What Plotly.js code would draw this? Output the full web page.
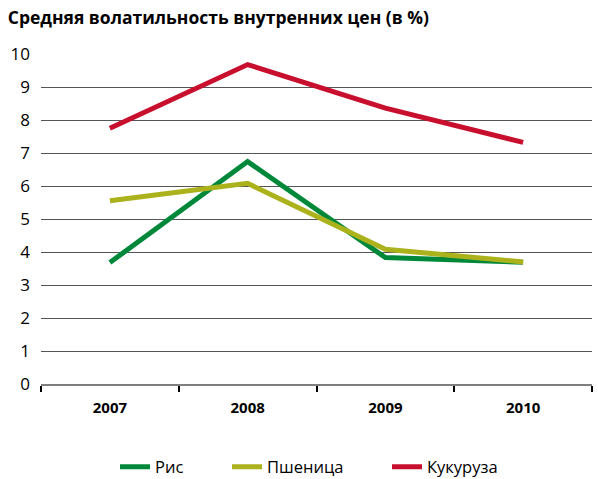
<!DOCTYPE html>
<html>
<head>
<meta charset="utf-8">
<script src="https://cdn.plot.ly/plotly-3.0.1.min.js"></script>
<style>html,body{margin:0;padding:0;background:#fff;}#chart{width:598px;height:479px;}</style>
</head>
<body>
<div id="chart"></div>
<script>
const years = ["2007", "2008", "2009", "2010"];
const rice = [3.68, 6.74, 3.83, 3.69];
const wheat = [5.55, 6.08, 4.08, 3.70];
const maize = [7.75, 9.68, 8.36, 7.32];
const seriesNames = ["Рис", "Пшеница", "Кукуруза"];
const yTicks = [0, 1, 2, 3, 4, 5, 6, 7, 8, 9, 10];

const colors = ["#00883A", "#ABB21C", "#C8102E"];
const values = [rice, wheat, maize];
const legendIds = ["legend", "legend2", "legend3"];
const traces = values.map((v, i) => ({
  x: years, y: v, name: seriesNames[i], type: "scatter", mode: "lines",
  line: {color: colors[i], width: 5}, legend: legendIds[i]
}));

const plotL = 41, plotW = 551;
const legX = [115, 227, 387].map(p => (p - plotL) / plotW);
const legFont = {size: 16.5, family: "Open Sans, sans-serif", color: "#000"};
function leg(x) {
  return {orientation: "h", x: x, xanchor: "left", y: -0.2515, yanchor: "middle", font: legFont,
          bgcolor: "rgba(0,0,0,0)", borderwidth: 0};
}

const layout = {
  width: 598, height: 479,
  margin: {l: 41, r: 6, t: 54, b: 95, autoexpand: false},
  paper_bgcolor: "#fff", plot_bgcolor: "#fff",
  font: {family: "Open Sans, DejaVu Sans, sans-serif", color: "#000"},
  title: {text: "<b>Средняя волатильность внутренних цен (в %)</b>", x: 0.013, xanchor: "left", y: 0.962, yanchor: "middle",
          font: {size: 17.5, family: "Open Sans, sans-serif", color: "#000"}},
  xaxis: {type: "category", range: [-0.5, 3.5], tickson: "boundaries", ticks: "outside", ticklen: 6, tickwidth: 2, tickcolor: "#000",
          showline: true, linecolor: "#7f7f7f", linewidth: 2, showgrid: false, zeroline: false, ticklabelstandoff: 9,
          tickfont: {size: 15, family: "Open Sans, sans-serif", color: "#000", weight: "bold"}, automargin: false},
  yaxis: {range: [0, 10], tickvals: yTicks, ticktext: yTicks.map(String), showgrid: true, gridcolor: "#555", gridwidth: 1,
          zeroline: false, showline: false, ticks: "", ticklabelstandoff: 10,
          tickfont: {size: 17, family: "Open Sans, sans-serif", color: "#000"}, automargin: false, fixedrange: true},
  showlegend: true,
  legend: leg(legX[0]), legend2: leg(legX[1]), legend3: leg(legX[2])
};
Plotly.newPlot("chart", traces, layout, {displayModeBar: false, staticPlot: true});
</script>
</body>
</html>
